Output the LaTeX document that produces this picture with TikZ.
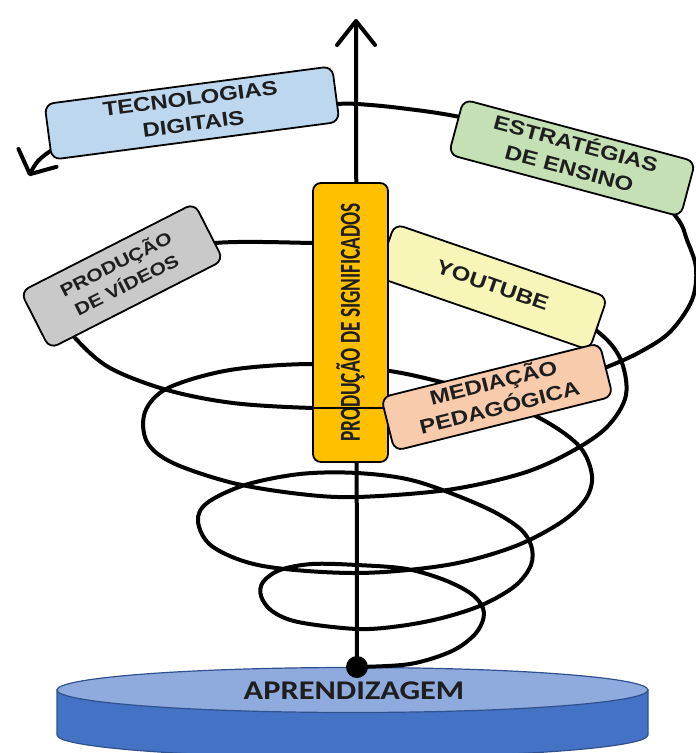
\documentclass[tikz,border=0pt]{standalone}
\usepackage{fontspec}
\usepackage{graphicx}
\setmainfont{Liberation Sans}
\newfontfamily\carlito{Carlito}
\usetikzlibrary{arrows.meta}
\definecolor{techblue}{RGB}{189,215,238}
\definecolor{stratgreen}{RGB}{197,224,180}
\definecolor{tubeyellow}{RGB}{247,245,184}
\definecolor{mediapeach}{RGB}{248,203,173}
\definecolor{videogray}{RGB}{201,201,201}
\definecolor{meaninggold}{RGB}{255,192,0}
\definecolor{cyltop}{RGB}{143,170,220}
\definecolor{cylside}{RGB}{68,114,196}
\definecolor{cylrim}{RGB}{47,82,143}
\definecolor{labeltext}{RGB}{30,30,30}
\newcommand{\wide}[1]{\scalebox{1.2}[1]{\begin{tabular}{@{}c@{}}#1\end{tabular}}}
\tikzset{
  stagebox/.style={draw=black, line width=1.8pt, rounded corners=9pt, inner sep=0pt,
    text=labeltext, font=\fontsize{20}{25.5}\selectfont\bfseries},
  coil/.style={line width=4pt, line cap=round, line join=round},
}

\begin{document}
\begin{tikzpicture}[x=1pt, y=-1pt]
\useasboundingbox (0,0) rectangle (696,753);
\filldraw[fill=cylside, draw=cylrim, line width=1.2pt] (57,690) -- (57,735)
  arc[start angle=180, end angle=360, x radius=295.5pt, y radius=22.5pt] -- (648,690) -- cycle;
\filldraw[fill=cyltop, draw=cylrim, line width=1.2pt] (352.5,690) ellipse[x radius=295.5pt, y radius=22.5pt];
\node[text=labeltext, font=\carlito\fontsize{27}{30}\selectfont\bfseries] (ground) at (354,691) {\scalebox{1.2}[1]{APRENDIZAGEM}};

\coordinate (root) at (357,667);
\coordinate (peak) at (356,19);
\draw[coil, -{Straight Barb[length=18pt, width=42pt, round]}] plot[smooth, tension=0.55] coordinates {
  (root) (410,664) (452,651) (476,633) (484,613) (474,596) (447,581) (407,569) (357,565)
  (312,564) (280,570) (263,582) (261,596) (272,611) (298,622) (357,629) (400,626) (442,618)
  (482,605) (515,586) (531,565) (531,545) (518,527) (482,506) (415,481) (357,473) (300,474)
  (245,485) (207,503) (198,522) (213,547) (263,566) (357,573) (447,565) (513,547) (560,523)
  (585,500) (592,476) (580,447) (545,421) (490,396) (433,380) (383,370) (313,364) (230,370)
  (168,388) (145,412) (147,442) (173,463) (233,483) (300,494) (357,497) (447,490) (520,474)
  (567,454) (606,428) (626,395) (619,356) (590,326) (520,288) (440,258) (360,245) (313,243)
  (215,243) (140,258) (75,290) (60,315) (77,340) (110,368) (167,390) (233,403) (313,408)
  (390,408) (480,400) (560,385) (607,367) (640,352) (670,332) (692,300) (696,268) (687,240)
  (677,218) (640,180) (560,140) (460,117) (400,108) (357,104) (335,104) (250,108) (150,120)
  (80,135) (55,148) (38,161) (29,176)};
\draw[line width=4pt, -{Straight Barb[length=24pt, width=38pt, round]}] (root) -- (peak);
\fill[black] (root) circle (11pt);

\node[stagebox, fill=tubeyellow, rotate=-19, minimum width=225pt, minimum height=56pt] (tube) at (492,287) {\wide{YOUTUBE}};
\node[stagebox, fill=meaninggold, rotate=90, rounded corners=8pt, minimum width=279pt, minimum height=75pt,
  font=\carlito\fontsize{29}{30}\selectfont\bfseries] (meaning) at (350.5,322.5) {\scalebox{0.667}[1]{PRODUÇÃO DE SIGNIFICADOS}};
\draw[line width=1.4pt] (313,408) -- (392,408);
\node[stagebox, fill=mediapeach, rotate=14, minimum width=225pt, minimum height=55pt] (media) at (497,397) {\wide{MEDIAÇÃO\\PEDAGÓGICA}};
\node[stagebox, fill=techblue, rotate=7.5, minimum width=290pt, minimum height=56pt] (tech) at (192,113) {\wide{TECNOLOGIAS\\DIGITAIS}};
\node[stagebox, fill=stratgreen, rotate=-15, minimum width=240pt, minimum height=57pt] (strat) at (572,158) {\wide{ESTRATÉGIAS\\DE ENSINO}};
\node[stagebox, fill=videogray, rotate=27, minimum width=195pt, minimum height=64pt, font=\fontsize{17.5}{23.5}\selectfont\bfseries] (video) at (122,276) {\wide{PRODUÇÃO\\DE VÍDEOS}};
\end{tikzpicture}
\end{document}
